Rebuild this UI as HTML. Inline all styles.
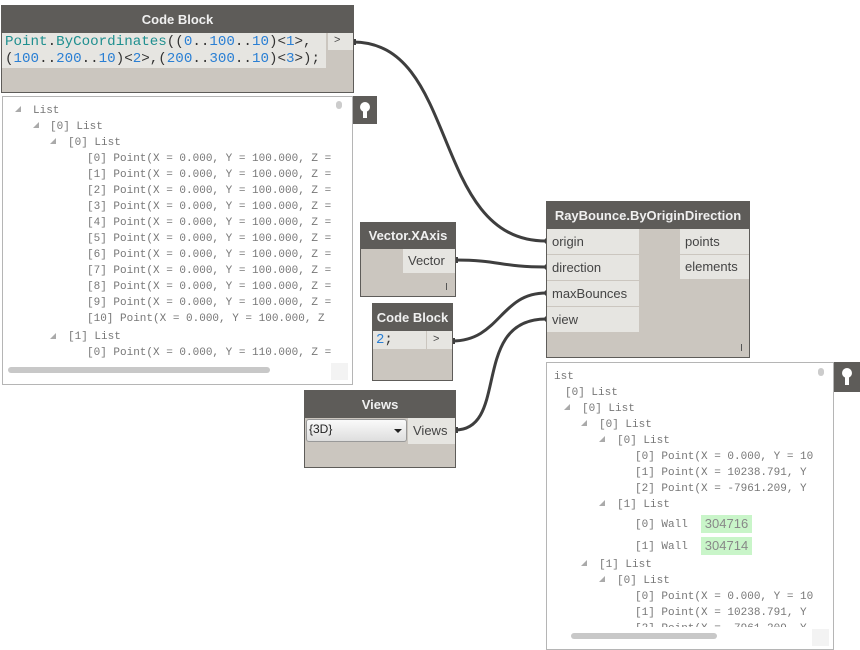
<!DOCTYPE html>
<html><head><meta charset="utf-8"><style>
body{margin:0;width:860px;height:650px;background:#fff;position:relative;overflow:hidden;font-family:"Liberation Sans",sans-serif;}
div{box-sizing:border-box;}
.a{position:absolute;}
.node{position:absolute;background:#cbc6bf;border:1px solid #5e5c59;}
.hd{position:absolute;left:0;top:0;right:0;background:#5e5c59;color:#f0f0f0;font-weight:bold;font-size:13px;text-align:center;white-space:nowrap;}
.port{position:absolute;background:#e6e5e1;color:#444;font-size:13px;white-space:nowrap;}
.prev{position:absolute;background:#fff;border:1px solid #b5b5b5;overflow:hidden;}
.ln{position:absolute;font-family:"Liberation Mono",monospace;font-size:11px;line-height:16px;color:#777;white-space:pre;}
.tri{position:absolute;width:0;height:0;border-left:6px solid transparent;border-bottom:6px solid #aaa;}
.pin{position:absolute;background:#5e5c59;}
.mono{font-family:"Liberation Mono",monospace;}
.b{color:#2a7fd4}.t{color:#1f8f8f}
</style></head><body>

<svg class="a" style="left:0;top:0" width="860" height="650">
<g fill="none" stroke="#3e3e3e" stroke-width="3">
<path d="M353,42 C460,42 430,241 546,241"/>
<path d="M455,260 C500,260 500,267 546,267"/>
<path d="M452,341 C500,341 500,293 546,293"/>
<path d="M455,430 C510,430 470,319 546,319"/>
</g>
<g fill="#3e3e3e">
<rect x="352" y="39" width="4" height="6"/>
<rect x="454" y="257" width="4" height="6"/>
<rect x="451" y="338" width="4" height="6"/>
<rect x="454" y="427" width="4" height="6"/>
<path d="M547,237 l-4,4 4,4z"/><path d="M547,263 l-4,4 4,4z"/><path d="M547,289 l-4,4 4,4z"/><path d="M547,315 l-4,4 4,4z"/>
</g>
</svg>

<div class="node" style="left:1px;top:5px;width:353px;height:88px;">
 <div class="hd" style="height:27px;line-height:27px;">Code Block</div>
 <div class="a mono" style="left:0;top:27px;width:324px;height:35px;background:#e6e5e1;font-size:14.2px;line-height:17px;color:#333;padding-left:3px;padding-top:1px;white-space:pre;overflow:hidden;"><span class="t">Point</span>.<span class="t">ByCoordinates</span>((<span class="b">0</span>..<span class="b">100</span>..<span class="b">10</span>)&lt;<span class="b">1</span>&gt;,
(<span class="b">100</span>..<span class="b">200</span>..<span class="b">10</span>)&lt;<span class="b">2</span>&gt;,(<span class="b">200</span>..<span class="b">300</span>..<span class="b">10</span>)&lt;<span class="b">3</span>&gt;);</div>
 <div class="port" style="left:326px;top:27px;width:25px;height:17px;font-size:11px;line-height:15px;padding-left:6px;">&gt;</div>
</div>

<div class="prev" style="left:2px;top:96px;width:351px;height:289px;">
 <div class="tri" style="left:12px;top:9px"></div><div class="ln" style="left:30px;top:6px">List</div>
 <div class="tri" style="left:30px;top:25px"></div><div class="ln" style="left:47px;top:22px">[0] List</div>
 <div class="tri" style="left:47px;top:41px"></div><div class="ln" style="left:65px;top:38px">[0] List</div>
 <div class="ln" style="left:84px;top:54px">[0] Point(X = 0.000, Y = 100.000, Z =
[1] Point(X = 0.000, Y = 100.000, Z =
[2] Point(X = 0.000, Y = 100.000, Z =
[3] Point(X = 0.000, Y = 100.000, Z =
[4] Point(X = 0.000, Y = 100.000, Z =
[5] Point(X = 0.000, Y = 100.000, Z =
[6] Point(X = 0.000, Y = 100.000, Z =
[7] Point(X = 0.000, Y = 100.000, Z =
[8] Point(X = 0.000, Y = 100.000, Z =
[9] Point(X = 0.000, Y = 100.000, Z =
[10] Point(X = 0.000, Y = 100.000, Z</div>
 <div class="tri" style="left:47px;top:236px"></div><div class="ln" style="left:65px;top:232px">[1] List</div>
 <div class="ln" style="left:84px;top:248px">[0] Point(X = 0.000, Y = 110.000, Z =</div>
 <div class="a" style="left:5px;top:270px;width:262px;height:6px;border-radius:3px;background:#c8c8c8"></div>
 <div class="a" style="left:328px;top:266px;width:17px;height:17px;background:#f3f3f3"></div>
 <div class="a" style="left:333px;top:4px;width:6px;height:8px;border-radius:3px;background:#ccc"></div>
</div>
<div class="pin" style="left:353px;top:96px;width:24px;height:28px;"><div class="a" style="left:7px;top:6px;width:10px;height:10px;border-radius:5px;background:#fff"></div><div class="a" style="left:10px;top:14px;width:4px;height:8px;background:#fff"></div></div>

<div class="node" style="left:360px;top:222px;width:96px;height:75px;">
 <div class="hd" style="height:26px;line-height:26px;">Vector.XAxis</div>
 <div class="port" style="left:42px;top:26px;width:52px;height:24px;line-height:24px;padding-left:5px;">Vector</div>
 <div class="a" style="left:85px;top:60px;width:1px;height:7px;background:#555"></div>
</div>

<div class="node" style="left:372px;top:303px;width:81px;height:78px;">
 <div class="hd" style="height:27px;line-height:27px;">Code Block</div>
 <div class="a mono" style="left:0;top:27px;width:53px;height:18px;background:#e6e5e1;font-size:14px;line-height:18px;padding-left:3px;color:#333"><span class="b">2</span>;</div>
 <div class="port" style="left:54px;top:27px;width:25px;height:18px;font-size:11px;line-height:16px;padding-left:6px;">&gt;</div>
</div>

<div class="node" style="left:304px;top:390px;width:152px;height:78px;">
 <div class="hd" style="height:27px;line-height:27px;">Views</div>
 <div class="a" style="left:1px;top:28px;width:101px;height:23px;border:1px solid #999;border-radius:3px;background:linear-gradient(#fafafa,#dedede);font-size:12px;line-height:18px;padding-left:2px;color:#222">{3D}<div class="a" style="left:87px;top:9px;width:0;height:0;border-left:4px solid transparent;border-right:4px solid transparent;border-top:4px solid #222"></div></div>
 <div class="port" style="left:103px;top:27px;width:47px;height:26px;line-height:26px;padding-left:5px;">Views</div>
</div>

<div class="node" style="left:546px;top:201px;width:204px;height:157px;">
 <div class="hd" style="height:27px;line-height:27px;">RayBounce.ByOriginDirection</div>
 <div class="port" style="left:0;top:27px;width:92px;height:25px;line-height:25px;padding-left:5px;">origin</div>
 <div class="port" style="left:0;top:53px;width:92px;height:25px;line-height:25px;padding-left:5px;">direction</div>
 <div class="port" style="left:0;top:79px;width:92px;height:25px;line-height:25px;padding-left:5px;">maxBounces</div>
 <div class="port" style="left:0;top:105px;width:92px;height:25px;line-height:25px;padding-left:5px;">view</div>
 <div class="port" style="left:133px;top:27px;width:69px;height:25px;line-height:25px;padding-left:5px;">points</div>
 <div class="port" style="left:133px;top:53px;width:69px;height:24px;line-height:24px;padding-left:5px;">elements</div>
 <div class="a" style="left:194px;top:142px;width:1px;height:7px;background:#555"></div>
</div>

<div class="prev" style="left:546px;top:362px;width:288px;height:288px;">
 <div class="ln" style="left:7px;top:6px">ist</div>
 <div class="ln" style="left:18px;top:22px">[0] List</div>
 <div class="tri" style="left:17px;top:41px"></div><div class="ln" style="left:35px;top:38px">[0] List</div>
 <div class="tri" style="left:34px;top:57px"></div><div class="ln" style="left:52px;top:54px">[0] List</div>
 <div class="tri" style="left:52px;top:73px"></div><div class="ln" style="left:70px;top:70px">[0] List</div>
 <div class="ln" style="left:88px;top:86px">[0] Point(X = 0.000, Y = 10
[1] Point(X = 10238.791, Y
[2] Point(X = -7961.209, Y</div>
 <div class="tri" style="left:52px;top:137px"></div><div class="ln" style="left:70px;top:134px">[1] List</div>
 <div class="ln" style="left:88px;top:154px">[0] Wall</div>
 <div class="a" style="left:154px;top:152px;width:51px;height:18px;background:#c9f5c9;color:#888;font-size:13px;line-height:18px;text-align:center">304716</div>
 <div class="ln" style="left:88px;top:176px">[1] Wall</div>
 <div class="a" style="left:154px;top:174px;width:51px;height:18px;background:#c9f5c9;color:#888;font-size:13px;line-height:18px;text-align:center">304714</div>
 <div class="tri" style="left:34px;top:197px"></div><div class="ln" style="left:52px;top:194px">[1] List</div>
 <div class="tri" style="left:52px;top:213px"></div><div class="ln" style="left:70px;top:210px">[0] List</div>
 <div class="ln" style="left:88px;top:226px">[0] Point(X = 0.000, Y = 10
[1] Point(X = 10238.791, Y
[2] Point(X = -7961.209, Y</div>
 <div class="a" style="left:0;top:264px;width:288px;height:24px;background:#fff"></div>
 <div class="a" style="left:24px;top:270px;width:146px;height:6px;border-radius:3px;background:#c8c8c8"></div>
 <div class="a" style="left:265px;top:266px;width:17px;height:17px;background:#f3f3f3"></div>
 <div class="a" style="left:271px;top:5px;width:6px;height:8px;border-radius:3px;background:#ccc"></div>
</div>
<div class="pin" style="left:834px;top:362px;width:26px;height:30px;"><div class="a" style="left:8px;top:6px;width:10px;height:10px;border-radius:5px;background:#fff"></div><div class="a" style="left:11px;top:14px;width:4px;height:9px;background:#fff"></div></div>

</body></html>
